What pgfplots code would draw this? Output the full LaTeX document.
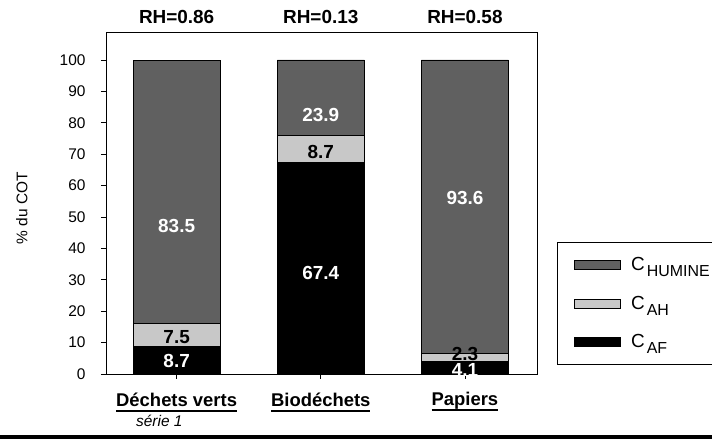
\documentclass[border=0pt]{standalone}
\usepackage{fontspec}
\setmainfont{Liberation Sans}
\usepackage{pgfplots}
\pgfplotsset{compat=1.18}

\definecolor{humine}{RGB}{96,96,96}
\definecolor{cah}{RGB}{200,200,200}

\newcommand\fs[1]{\fontsize{#1}{#1}\selectfont}
\newsavebox\ulbox
\newcommand\ul[1]{\sbox\ulbox{#1}\usebox\ulbox\llap{\rule[-5.5bp]{\wd\ulbox}{2bp}}}
\newcommand\leg[1]{{\fs{19}C}\hspace{2bp}\raisebox{-6bp}{\fs{16}#1}}

\begin{document}
\begin{tikzpicture}
\useasboundingbox (0,0) rectangle (712bp,439bp);
\begin{axis}[
    at={(106bp,65bp)}, anchor=south west,
    scale only axis, width=431bp, height=342bp,
    xmin=-0.49, xmax=2.5, ymin=0, ymax=108.9,
    ybar stacked, bar width=87bp,
    clip=false,
    axis line style={black, line width=0.8bp},
    tick align=outside,
    xtick pos=bottom, ytick pos=left,
    xtick={0,1,2},
    xticklabels={\ul{Déchets verts}, \ul{Biodéchets}, \ul{Papiers}},
    xticklabel style={font=\fs{18.5}\bfseries, yshift=-10bp},
    ytick={0,10,...,100},
    yticklabel style={font=\fs{15.5}, xshift=-12bp},
    /pgf/number format/assume math mode=true,
    major tick length=5bp,
    tick style={black, line width=0.8bp},
    ylabel={\% du COT},
    ylabel style={font=\fs{15.5}, at={(axis description cs:-0.195,0.485)}, anchor=center},
    reverse legend,
    legend image code/.code={\draw[#1] (0bp,-4.5bp) rectangle (46bp,4.5bp);},
    legend style={at={(1.0464,0.386)}, anchor=north west,
        draw=black, line width=0.8bp, inner xsep=17bp, inner ysep=13bp,
        row sep=20bp, cells={anchor=west}, font=\fs{16},
        /tikz/every odd column/.append style={column sep=8bp}},
]
\addplot[fill=black, draw=black, line width=0.8bp] coordinates {(0,8.7) (1,67.4) (2,4.1)};
\addplot[fill=cah, draw=black, line width=0.8bp] coordinates {(0,7.5) (1,8.7) (2,2.3)};
\addplot[fill=humine, draw=black, line width=0.8bp] coordinates {(0,83.5) (1,23.9) (2,93.6)};
\legend{\leg{AF}, \leg{AH}, \leg{HUMINE}\hspace{12bp}}

% label positions (drawn after the bars)
\coordinate (v1) at (axis cs:0,4.1);
\coordinate (v2) at (axis cs:0,11.6);
\coordinate (v3) at (axis cs:0,47.1);
\coordinate (v4) at (axis cs:1,32.2);
\coordinate (v5) at (axis cs:1,70.8);
\coordinate (v6) at (axis cs:1,82.5);
\coordinate (v7) at (axis cs:2,1.3);
\coordinate (v8) at (axis cs:2,6.4);
\coordinate (v9) at (axis cs:2,56);

% RH on top
\node[font=\fs{19}\bfseries, anchor=base] at (axis cs:0,111.5) {RH=0.86};
\node[font=\fs{19}\bfseries, anchor=base] at (axis cs:1,111.5) {RH=0.13};
\node[font=\fs{19}\bfseries, anchor=base] at (axis cs:2,111.5) {RH=0.58};

\node[font=\fs{15.5}\itshape] at (axis cs:-0.12,-15) {série 1};
\end{axis}
\begin{scope}[every node/.style={font=\fs{19}\bfseries}]
\node[white] at (v1) {8.7};
\node[black] at (v2) {7.5};
\node[white] at (v3) {83.5};
\node[white] at (v4) {67.4};
\node[black] at (v5) {8.7};
\node[white] at (v6) {23.9};
\node[white] at (v7) {4.1};
\node[black] at (v8) {2.3};
\node[white] at (v9) {93.6};
\end{scope}
\fill[black] (0,0) rectangle (712bp,4bp);
\end{tikzpicture}
\end{document}
